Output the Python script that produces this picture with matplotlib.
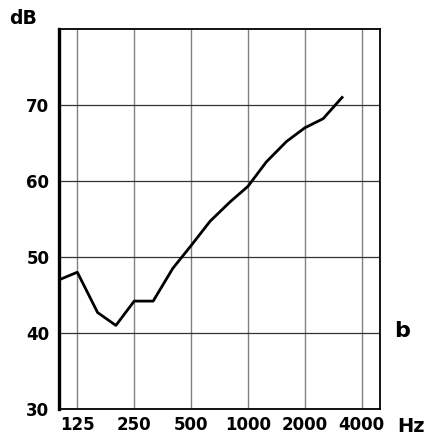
import matplotlib
matplotlib.use("Agg")
import matplotlib.pyplot as plt
from matplotlib.ticker import FixedLocator, NullLocator

freqs = [100, 125, 160, 200, 250, 315, 400, 500, 630, 800, 1000, 1250, 1600, 2000, 2500, 3150]
levels = [47, 48, 42.7, 41, 44.2, 44.2, 48.5, 51.5, 54.7, 57.2, 59.3, 62.5, 65.2, 67, 68.2, 71]
xticks = [125, 250, 500, 1000, 2000, 4000]
xticklabels = ["125", "250", "500", "1000", "2000", "4000"]
yticks = [30, 40, 50, 60, 70]
ygrid = [40, 50, 60, 70]

fig = plt.figure(figsize=(4.32, 4.37), dpi=100)
ax = fig.add_axes([0.1366, 0.064, 0.743, 0.8696])
ax.set_xscale("log")
ax.set_xlim(100, 5000)
ax.set_ylim(30, 80)

for f in xticks:
    ax.axvline(f, color="#808080", lw=1.0, zorder=1)
for y in ygrid:
    ax.axhline(y, color="#333333", lw=0.9, zorder=1)

ax.plot(freqs, levels, color="black", lw=2.0, zorder=3, solid_joinstyle="round")

ax.xaxis.set_major_locator(FixedLocator(xticks))
ax.xaxis.set_minor_locator(NullLocator())
ax.set_xticklabels(xticklabels)
ax.set_yticks(yticks)
ax.tick_params(axis="x", length=0, labelsize=12, pad=5)
ax.tick_params(axis="y", length=0, labelsize=12, pad=7)
for lab in ax.get_xticklabels() + ax.get_yticklabels():
    lab.set_fontweight("bold")

for s in ["top", "right", "bottom"]:
    ax.spines[s].set_linewidth(1.3)
ax.spines["left"].set_linewidth(2.4)

fig.text(23 / 432, 1 - 19 / 437, "dB", fontsize=13.5, fontweight="bold", ha="center", va="center")
fig.text(411 / 432, 1 - 427 / 437, "Hz", fontsize=14, fontweight="bold", ha="center", va="center")
fig.text(402 / 432, 1 - 331 / 437, "b", fontsize=16, fontweight="bold", ha="center", va="center")

fig.savefig("out.png", dpi=100)
